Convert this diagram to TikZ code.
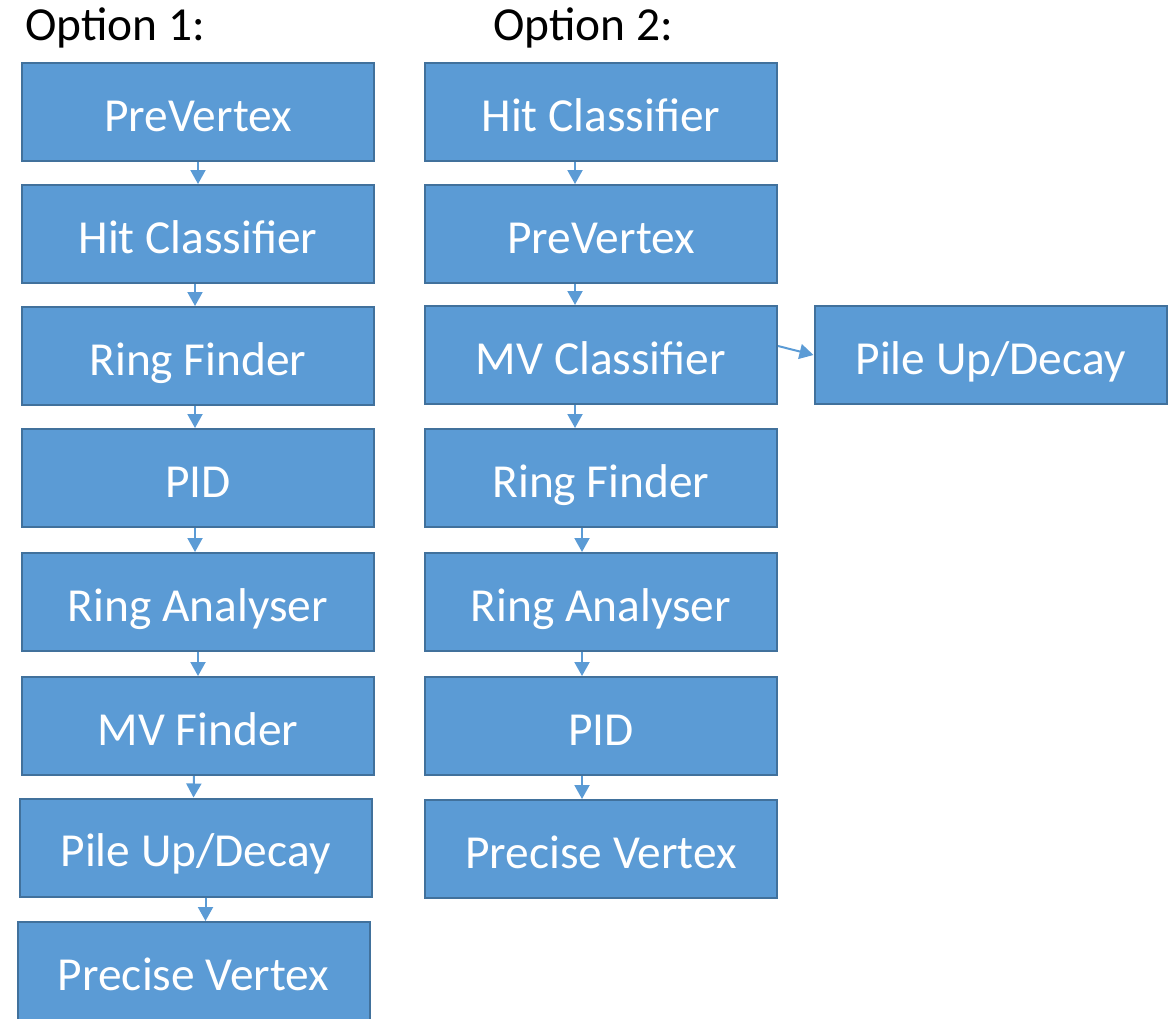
\documentclass[tikz,border=0pt]{standalone}
\usepackage{fontspec}
\setmainfont{Carlito}
\usetikzlibrary{arrows.meta}
\definecolor{boxfill}{HTML}{5B9BD5}
\definecolor{boxline}{HTML}{41719C}
\tikzset{
  stage/.style={draw=boxline, fill=boxfill, line width=1pt, text=white,
    minimum width=176pt, minimum height=49pt, inner sep=0pt,
    text height=19pt, text depth=0pt,
    font=\fontsize{23.7}{28}\selectfont},
  flow/.style={draw=boxfill, line width=1pt, -{Triangle[width=7.5pt,length=7pt]}},
  title/.style={anchor=base west, inner sep=0pt, font=\fontsize{23.7}{28}\selectfont}
}
\begin{document}
\begin{tikzpicture}[x=0.5pt,y=-0.5pt]
      \useasboundingbox (0,0) rectangle (1171,1018);
      % headings
      \node[title] (opt1) at (25,40) {Option 1:};
      \node[title] (opt2) at (493,40) {Option 2:};
      % option 1
      \node[stage] (a1) at (198,112) {PreVertex};
      \node[stage] (a2) at (198,234) {Hit Classifier};
      \node[stage] (a3) at (198,356) {Ring Finder};
      \node[stage] (a4) at (198,478) {PID};
      \node[stage] (a5) at (198,602) {Ring Analyser};
      \node[stage] (a6) at (198,726) {MV Finder};
      \node[stage] (a7) at (195.5,847.5) {Pile Up/Decay};
      \node[stage] (a8) at (193.5,971) {Precise Vertex};
      % option 2
      \node[stage] (b1) at (601,112) {Hit Classifier};
      \node[stage] (b2) at (601,234) {PreVertex};
      \node[stage] (b3) at (601,355) {MV Classifier};
      \node[stage] (b4) at (601,478) {Ring Finder};
      \node[stage] (b5) at (601,602) {Ring Analyser};
      \node[stage] (b6) at (601,726) {PID};
      \node[stage] (b7) at (601,849) {Precise Vertex};
      \node[stage] (c1) at (990.5,355) {Pile Up/Decay};
      % arrows
      \draw[flow] (a1) -- (a2);
      \draw[flow] ([xshift=-1.5pt]a2.south) -- ([xshift=-1.5pt]a3.north);
      \draw[flow] ([xshift=-1.5pt]a3.south) -- ([xshift=-1.5pt]a4.north);
      \draw[flow] ([xshift=-1.5pt]a4.south) -- ([xshift=-1.5pt]a5.north);
      \draw[flow] (a5) -- (a6);
      \draw[flow] ([xshift=-2pt]a6.south) -- ([xshift=-1pt]a7.north);
      \draw[flow] ([xshift=5pt]a7.south) -- ([xshift=6pt]a8.north);
      \draw[flow] ([xshift=-13pt]b1.south) -- ([xshift=-13pt]b2.north);
      \draw[flow] ([xshift=-13pt]b2.south) -- ([xshift=-13pt]b3.north);
      \draw[flow] ([xshift=-13pt]b3.south) -- ([xshift=-13pt]b4.north);
      \draw[flow] ([xshift=-9.5pt]b4.south) -- ([xshift=-9.5pt]b5.north);
      \draw[flow] ([xshift=-9.5pt]b5.south) -- ([xshift=-9.5pt]b6.north);
      \draw[flow] ([xshift=-9.5pt]b6.south) -- ([xshift=-9.5pt]b7.north);
      \draw[flow] ([yshift=4.5pt]b3.east) -- (c1.west);
\end{tikzpicture}
\end{document}
